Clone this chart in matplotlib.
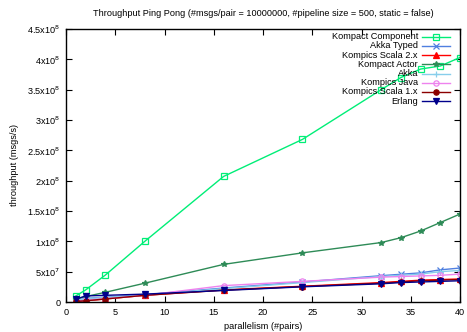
import matplotlib
matplotlib.use("Agg")
import matplotlib.pyplot as plt
from matplotlib.lines import Line2D
from matplotlib.ticker import FixedLocator, FixedFormatter

plt.rcParams['font.family'] = ['Liberation Sans', 'DejaVu Sans']
FS = 6.6

pairs = [1, 2, 4, 8, 16, 24, 32, 34, 36, 38, 40]

kompact_component = [1.0e7, 2.0e7, 4.45e7, 1.0e8, 2.07e8, 2.68e8, 3.5e8, 3.70e8, 3.84e8, 3.89e8, 4.03e8]
akka_typed        = [3.0e6, 6.0e6, 8.0e6, 1.2e7, 2.3e7, 3.3e7, 4.34e7, 4.57e7, 4.8e7, 5.3e7, 5.6e7]
kompics_scala2    = [1.0e6, 2.0e6, 5.0e6, 1.1e7, 2.0e7, 2.6e7, 3.2e7, 3.4e7, 3.6e7, 3.7e7, 3.8e7]
kompact_actor     = [5.0e6, 9.0e6, 1.6e7, 3.1e7, 6.2e7, 8.1e7, 9.8e7, 1.06e8, 1.17e8, 1.31e8, 1.45e8]
akka              = [3.0e6, 5.5e6, 7.5e6, 1.15e7, 2.2e7, 3.2e7, 4.2e7, 4.4e7, 4.6e7, 5.0e7, 5.2e7]
kompics_java      = [1.0e6, 3.0e6, 5.5e6, 1.1e7, 2.7e7, 3.4e7, 4.1e7, 4.2e7, 4.3e7, 4.4e7, 4.6e7]
kompics_scala1    = [1.0e6, 2.0e6, 5.0e6, 1.1e7, 1.95e7, 2.55e7, 3.1e7, 3.3e7, 3.5e7, 3.6e7, 3.7e7]
erlang            = [4.5e6, 1.0e7, 1.1e7, 1.3e7, 1.9e7, 2.5e7, 3.0e7, 3.2e7, 3.3e7, 3.4e7, 3.5e7]

series = [
    ("Kompact Component", kompact_component, "#00ee77", "s", "none"),
    ("Akka Typed", akka_typed, "#4f7fe0", "x", None),
    ("Kompics Scala 2.x", kompics_scala2, "#ff0000", "^", None),
    ("Kompact Actor", kompact_actor, "#2e8b57", "*", None),
    ("Akka", akka, "#87ceeb", "+", None),
    ("Kompics Java", kompics_java, "#ee82ee", "o", "none"),
    ("Kompics Scala 1.x", kompics_scala1, "#8b0000", "o", None),
    ("Erlang", erlang, "#00008b", "v", None),
]

yticks = [0, 5e7, 1e8, 1.5e8, 2e8, 2.5e8, 3e8, 3.5e8, 4e8, 4.5e8]
ytick_labels = ["0", r"5x10$^7$", r"1x10$^8$", r"1.5x10$^8$", r"2x10$^8$", r"2.5x10$^8$",
                r"3x10$^8$", r"3.5x10$^8$", r"4x10$^8$", r"4.5x10$^8$"]
xticks = [0, 5, 10, 15, 20, 25, 30, 35, 40]

W, H = 467, 332
fig = plt.figure(figsize=(W / 100, H / 100), dpi=100)
ax = fig.add_axes([66 / W, 1 - 302 / H, (460 - 66) / W, (302 - 29) / H])

def mkw(col, mk, fill):
    kw = dict(color=col, lw=1.0, marker=mk, markersize=3.8, markeredgewidth=0.9)
    if fill == "none":
        kw["markerfacecolor"] = "none"
    return kw

for name, vals, col, mk, fill in series:
    ax.plot(pairs, vals, label=name, **mkw(col, mk, fill))

ax.set_xlim(0, 40)
ax.set_ylim(0, 4.5e8)
ax.yaxis.set_major_locator(FixedLocator(yticks))
ax.yaxis.set_major_formatter(FixedFormatter(ytick_labels))
ax.set_xticks(xticks)
ax.tick_params(direction='in', top=True, right=True, labelsize=FS, length=4, width=0.8, pad=4)
for s in ax.spines.values():
    s.set_linewidth(1.0)

ax.set_title("Throughput Ping Pong (#msgs/pair = 10000000, #pipeline size = 500, static = false)",
             fontsize=FS, pad=9)
ax.set_xlabel("parallelism (#pairs)", fontsize=FS, labelpad=4)
ax.set_ylabel("throughput (msgs/s)", fontsize=FS, labelpad=6)

# gnuplot-style key: right-aligned labels followed by line samples
tr = fig.transFigure
for i, (name, vals, col, mk, fill) in enumerate(series):
    ypix = 36.7 + 9.2 * i
    yf = 1 - ypix / H
    fig.text(418 / W, yf, name, ha='right', va='center', fontsize=FS)
    fig.add_artist(Line2D([422 / W, 450 / W], [yf, yf], transform=tr, color=col, lw=1.0))
    kw = mkw(col, mk, fill)
    kw.pop("lw")
    fig.add_artist(Line2D([436 / W], [yf], transform=tr, linestyle='none', **kw))

fig.savefig("out.png", dpi=100)
